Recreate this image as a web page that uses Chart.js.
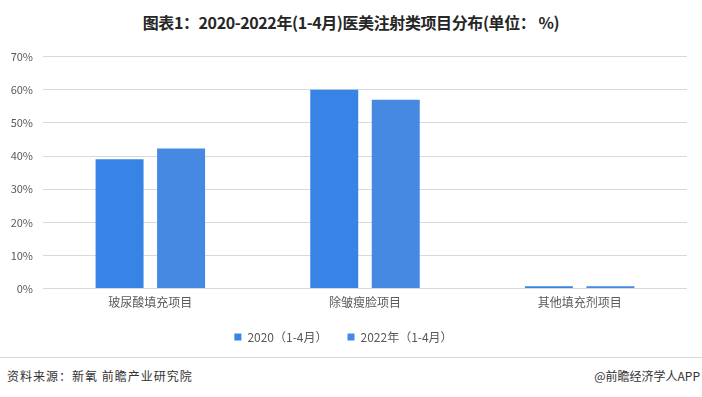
<!DOCTYPE html>
<html>
<head>
<meta charset="utf-8">
<script src="https://cdn.jsdelivr.net/npm/chart.js@4/dist/chart.umd.min.js"></script>
<style>
  html, body { margin: 0; padding: 0; background: #fff; }
  body { width: 702px; height: 397px; position: relative; overflow: hidden;
         font-family: "Microsoft YaHei", "Noto Sans CJK SC", sans-serif; }
  .title { position: absolute; top: 10px; left: 0; width: 702px; text-align: center;
           font-size: 16px; font-weight: bold; color: #262626; letter-spacing: -0.4px; }
  .box { position: absolute; left: 0; top: 40px; width: 702px; height: 317px; }
  .rule { position: absolute; left: 0; top: 357px; width: 702px; height: 1px; background: #d9d9d9; }
  .src { position: absolute; left: 7px; top: 367px; font-size: 12px; color: #333; letter-spacing: 1px; }
  .app { position: absolute; right: 2px; top: 367px; font-size: 12px; color: #333; }
</style>
</head>
<body>
<div class="title">图表1：2020-2022年(1-4月)医美注射类项目分布(单位： %)</div>
<div class="box"><canvas id="c"></canvas></div>
<div class="rule"></div>
<div class="src">资料来源：新氧 前瞻产业研究院</div>
<div class="app">@前瞻经济学人APP</div>
<script>
const categories = ['玻尿酸填充项目', '除皱瘦脸项目', '其他填充剂项目'];
const seriesNames = ['2020（1-4月）', '2022年（1-4月）'];
const values2020 = [39.0, 60.0, 0.7];
const values2022 = [42.3, 57.0, 0.7];
const yTicks = [0, 10, 20, 30, 40, 50, 60, 70];

const font = '"Microsoft YaHei", "Noto Sans CJK SC", sans-serif';

new Chart(document.getElementById('c'), {
  type: 'bar',
  data: {
    labels: categories,
    datasets: [
      { label: seriesNames[0], data: values2020, backgroundColor: '#3784E6' },
      { label: seriesNames[1], data: values2022, backgroundColor: '#4589E2' }
    ]
  },
  options: {
    responsive: true,
    maintainAspectRatio: false,
    animation: false,
    categoryPercentage: 0.573,
    barPercentage: 0.78,
    layout: { padding: { top: 12, right: 15, left: 0, bottom: 4 } },
    plugins: {
      tooltip: { enabled: false },
      legend: {
        position: 'bottom',
        labels: {
          boxWidth: 7, boxHeight: 7, padding: 14,
          color: '#595959', font: { family: font, size: 12 },
          // a bit more room after the first item, like the original
          generateLabels: chart => {
            const items = Chart.defaults.plugins.legend.labels.generateLabels(chart);
            items.forEach((it, i) => { if (i < items.length - 1) it.text += '\u2002'; });
            return items;
          }
        }
      }
    },
    scales: {
      x: {
        grid: { display: false, drawTicks: false },
        border: { display: false },
        ticks: { color: '#595959', font: { family: font, size: 12 }, padding: 7 }
      },
      y: {
        min: 0, max: 70,
        afterBuildTicks: s => { s.ticks = yTicks.map(v => ({ value: v })); },
        afterFit: s => { s.width = 43; },
        grid: { color: '#d9d9d9', drawTicks: false },
        border: { display: false },
        ticks: {
          color: '#595959', padding: 10,
          font: { family: font, size: 11 },
          callback: v => v + '%'
        }
      }
    }
  }
});
</script>
</body>
</html>
